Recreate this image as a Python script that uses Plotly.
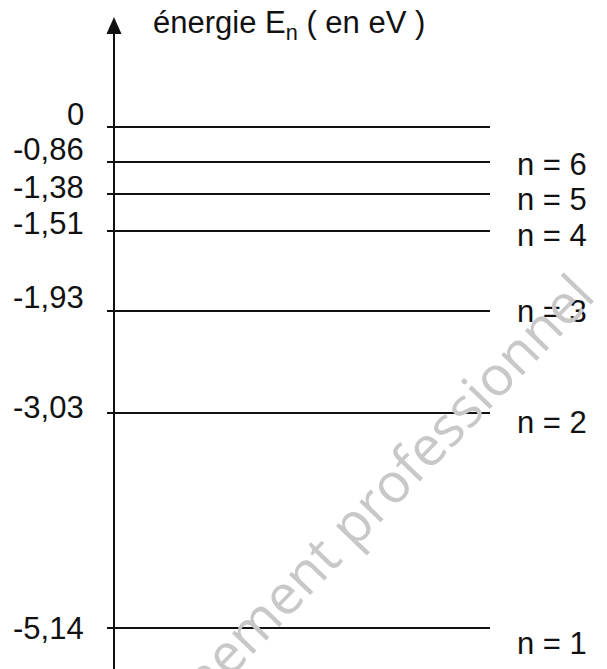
import plotly.graph_objects as go

# ---- data ----
energies = [0, -0.86, -1.38, -1.51, -1.93, -3.03, -5.14]          # eV
energy_labels = ["0", "-0,86", "-1,38", "-1,51", "-1,93", "-3,03", "-5,14"]
level_names = ["", "n = 6", "n = 5", "n = 4", "n = 3", "n = 2", "n = 1"]
# schematic vertical position of each level on the drawing (diagram is not to scale)
level_draw_pos = [0, -0.359, -0.687, -1.067, -1.888, -2.934, -5.14]

# ---- style / layout constants ----
W, H = 607, 669
FONT = "Liberation Sans, Arial, sans-serif"
INK = "#111111"
FS = 31
X_LINE0, X_LINE1 = 107, 490
X_AXIS = 114
left_shift = [13, 12.5, 6, 7, 13.5, 5, -0.5]
right_shift = [0, -3, -6, -5, 0, -10, -16]

fig = go.Figure()

for pos in level_draw_pos:
    fig.add_trace(go.Scatter(x=[X_LINE0, X_LINE1], y=[pos, pos], mode="lines",
                             line=dict(color=INK, width=2), hoverinfo="skip",
                             showlegend=False))

for i, (pos, lab, name) in enumerate(zip(level_draw_pos, energy_labels, level_names)):
    fig.add_annotation(x=86, y=pos, xref="x", yref="y", text=lab, showarrow=False,
                       xanchor="right", yanchor="middle", yshift=left_shift[i],
                       font=dict(family=FONT, size=FS, color=INK))
    if name:
        fig.add_annotation(x=515, y=pos, xref="x", yref="y", text=name, showarrow=False,
                           xanchor="left", yanchor="middle", yshift=right_shift[i],
                           font=dict(family=FONT, size=FS, color=INK))

def px(x, y):
    return x / W, 1 - y / H

# vertical axis with arrow
ax0 = px(X_AXIS, 30)
ax1 = px(X_AXIS, H + 5)
fig.add_shape(type="line", xref="paper", yref="paper", x0=ax0[0], y0=ax0[1],
              x1=ax1[0], y1=ax1[1], line=dict(color=INK, width=2))
t1, t2, t3 = px(X_AXIS, 17), px(X_AXIS - 7.5, 34), px(X_AXIS + 7.5, 34)
fig.add_shape(type="path", xref="paper", yref="paper",
              path=f"M {t1[0]} {t1[1]} L {t2[0]} {t2[1]} L {t3[0]} {t3[1]} Z",
              fillcolor=INK, line=dict(color=INK, width=0))

# axis title
tp = px(151, 25)
fig.add_annotation(x=tp[0], y=tp[1], xref="paper", yref="paper",
                   text="énergie E<sub>n</sub> ( en eV )", showarrow=False,
                   xanchor="left", yanchor="middle",
                   font=dict(family=FONT, size=FS, color=INK))

# watermark
wp = px(328, 545)
fig.add_annotation(x=wp[0], y=wp[1], xref="paper", yref="paper",
                   text="enseignement professionnel", showarrow=False,
                   textangle=-46, xanchor="center", yanchor="middle",
                   font=dict(family="Open Sans", size=55, color="#c8c8c8", weight=400))

fig.update_layout(
    width=W, height=H, margin=dict(l=0, r=0, t=0, b=0),
    paper_bgcolor="white", plot_bgcolor="white",
    xaxis=dict(range=[0, W], visible=False, fixedrange=True),
    yaxis=dict(range=[-5.561, 1.303], visible=False, fixedrange=True),
)

fig.write_html("out.html", config={"displayModeBar": False},
               post_script="document.body.style.margin='0px';document.body.style.overflow='hidden';")
